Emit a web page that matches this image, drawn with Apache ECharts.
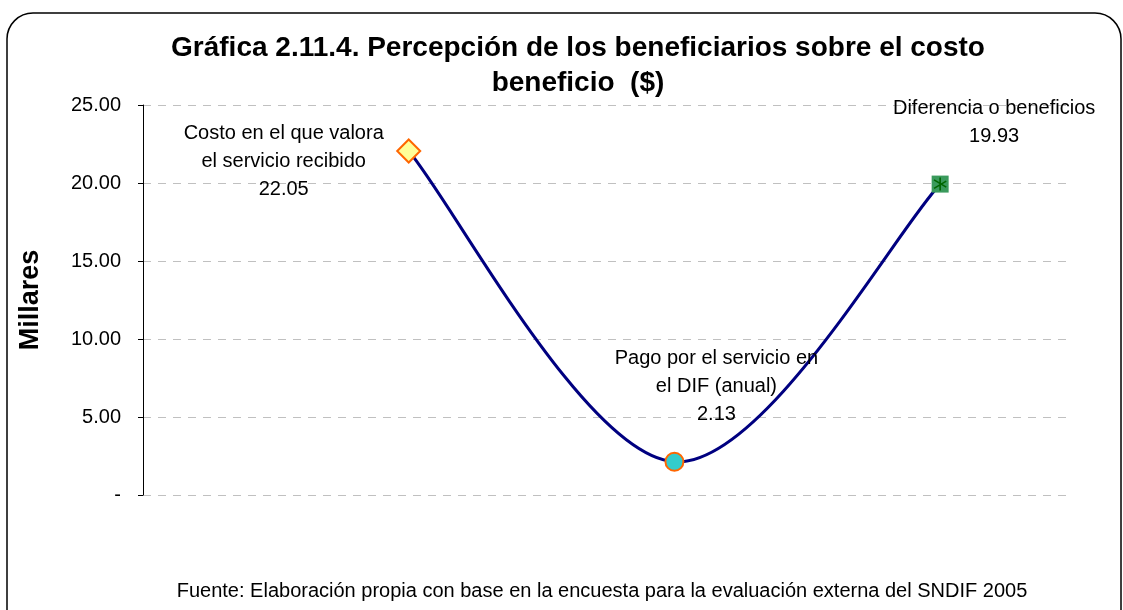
<!DOCTYPE html>
<html>
<head>
<meta charset="utf-8">
<style>
  html, body { margin: 0; padding: 0; background: #ffffff; }
  #chart { width: 1123px; height: 610px; }
</style>
<script src="https://cdn.jsdelivr.net/npm/echarts@6/dist/echarts.min.js"></script>
</head>
<body>
<div id="chart"></div>
<script>
// Perception of cost vs. benefit (thousands of pesos)
const categories = [
  'Costo en el que valora\nel servicio recibido',
  'Pago por el servicio en\nel DIF (anual)',
  'Diferencia o beneficios'
];
const values = [22.05, 2.13, 19.93];
const positions = [1, 2, 3];
const yTicks = [0, 5, 10, 15, 20, 25];

const FONT = '"Liberation Sans", Arial, sans-serif';

const points = values.map((v, i) => [positions[i], v]);

// six-armed asterisk drawn on top of the square marker
const asteriskPath = 'path://M4.4 0h1.2v10h-1.2z M0.2 2.2L0.8 1.2L9.8 6.8L9.2 7.8z M0.2 7.8L9.2 2.2L9.8 3.2L0.8 8.8z';

const labelOffsets = [[-125, 10], [42, -75], [54, -62]];
const markers = [
  { symbol: 'diamond', symbolSize: 23, itemStyle: { color: '#FFFF99', borderColor: '#FF6600', borderWidth: 2, opacity: 1 } },
  { symbol: 'circle', symbolSize: 18, itemStyle: { color: '#33CCCC', borderColor: '#FF6600', borderWidth: 2, opacity: 1 } },
  { symbol: 'rect', symbolSize: 17, itemStyle: { color: '#3A9A5C', borderColor: '#3A9A5C', borderWidth: 0, opacity: 1 } }
];

// Smoothed connector: cubic segments with Catmull-Rom style tangents (1/6 factor),
// endpoints use the neighbouring point itself.
function renderCurve(params, api) {
  if (params.dataIndex !== 0) return null;
  const px = points.map(p => api.coord(p));
  const n = px.length;
  const children = [];
  for (let i = 0; i < n - 1; i++) {
    const p0 = px[Math.max(i - 1, 0)];
    const p1 = px[i];
    const p2 = px[i + 1];
    const p3 = px[Math.min(i + 2, n - 1)];
    children.push({
      type: 'bezierCurve',
      shape: {
        x1: p1[0], y1: p1[1],
        cpx1: p1[0] + (p2[0] - p0[0]) / 6, cpy1: p1[1] + (p2[1] - p0[1]) / 6,
        cpx2: p2[0] - (p3[0] - p1[0]) / 6, cpy2: p2[1] - (p3[1] - p1[1]) / 6,
        x2: p2[0], y2: p2[1]
      },
      style: { fill: null, stroke: '#000080', lineWidth: 3, lineCap: 'round' }
    });
  }
  return { type: 'group', children };
}

const chart = echarts.init(document.getElementById('chart'), null, { renderer: 'canvas' });

chart.setOption({
  backgroundColor: '#ffffff',
  animation: false,
  textStyle: { fontFamily: FONT },
  graphic: [{
    type: 'rect',
    silent: true,
    shape: { x: 7, y: 13, width: 1114, height: 640, r: 26 },
    style: { fill: 'none', stroke: '#000000', lineWidth: 1.5 },
    z: -1
  }],
  title: [{
    text: 'Gráfica 2.11.4. Percepción de los beneficiarios sobre el costo\nbeneficio  ($)',
    left: 573,
    top: 26,
    textAlign: 'center',
    textStyle: { fontFamily: FONT, fontSize: 28, fontWeight: 'bold', color: '#000000', lineHeight: 35 }
  }, {
    text: 'Fuente: Elaboración propia con base en la encuesta para la evaluación externa del SNDIF 2005',
    left: 597,
    top: 576,
    textAlign: 'center',
    textStyle: { fontFamily: FONT, fontSize: 20, fontWeight: 'normal', color: '#000000' }
  }],
  grid: { left: 143, right: 50, top: 105, bottom: 115, containLabel: false },
  xAxis: {
    type: 'value',
    min: 0,
    max: 3.5,
    show: false
  },
  yAxis: {
    type: 'value',
    min: yTicks[0],
    max: yTicks[yTicks.length - 1],
    interval: 5,
    name: 'Millares',
    nameLocation: 'middle',
    nameRotate: 90,
    nameGap: 99,
    nameTextStyle: { fontFamily: FONT, fontSize: 27, fontWeight: 'bold', color: '#000000' },
    axisLine: { show: true, lineStyle: { color: '#000000', width: 1 } },
    axisTick: { show: true, length: 5, lineStyle: { color: '#000000' } },
    axisLabel: {
      margin: 22,
      fontFamily: FONT,
      fontSize: 20,
      color: '#000000',
      formatter: v => (v === 0 ? '-' : v.toFixed(2))
    },
    splitLine: { show: true, lineStyle: { color: '#C0C0C0', type: [8, 7], width: 1 } }
  },
  series: [{
    type: 'custom',
    renderItem: renderCurve,
    data: points,
    silent: true,
    z: 1
  }, {
    type: 'scatter',
    itemStyle: { opacity: 1 },
    data: points.map((p, i) => ({
      value: p,
      symbol: markers[i].symbol,
      symbolSize: markers[i].symbolSize,
      itemStyle: markers[i].itemStyle,
      label: {
        show: true,
        position: 'inside',
        offset: labelOffsets[i],
        align: 'center',
        verticalAlign: 'middle',
        fontFamily: FONT,
        fontSize: 20,
        lineHeight: 28,
        color: '#000000',
        opacity: 1,
        textBorderWidth: 0,
        formatter: categories[i] + '\n' + values[i].toFixed(2)
      }
    })),
    z: 3
  }, {
    type: 'scatter',
    symbol: asteriskPath,
    symbolSize: 13,
    itemStyle: { color: '#006600', opacity: 1 },
    data: [points[2]],
    silent: true,
    z: 5
  }]
});
</script>
</body>
</html>
